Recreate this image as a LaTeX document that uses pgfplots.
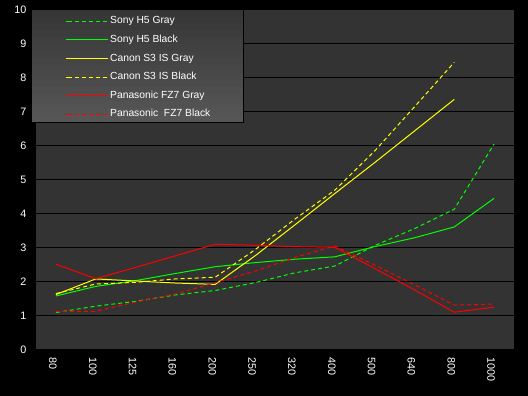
\documentclass[border=0pt]{standalone}
\usepackage{pgfplots}
\pgfplotsset{compat=1.18}
\usepackage{fontspec}
\setmainfont{Liberation Sans}
\definecolor{plotbg}{HTML}{333333}
\definecolor{legtop}{HTML}{363636}
\definecolor{legbot}{HTML}{565656}
\definecolor{cgreen}{HTML}{00FF00}
\definecolor{cyellow}{HTML}{FFFF00}
\definecolor{cred}{HTML}{FF0000}
\begin{document}
\begin{tikzpicture}[font=\fontsize{10.3}{12}\selectfont]
\fill[black] (0,0) rectangle (528pt,396pt);
\useasboundingbox (0,0) rectangle (528pt,396pt);
\begin{axis}[
  at={(36pt,46pt)}, anchor=south west,
  scale only axis, width=478pt, height=340pt,
  xmin=-0.5, xmax=11.5, ymin=0, ymax=10,
  clip=false,
  axis background/.style={fill=plotbg},
  axis line style={draw=none},
  ytick={0,1,...,10},
  xtick={0,1,...,11},
  xticklabels={80,100,125,160,200,250,320,400,500,640,800,1000},
  major tick length=0pt,
  ymajorgrids, grid style={black, line width=1pt},
  tick label style={white, font=\fontsize{10.8}{13}\selectfont},
  xticklabel style={xshift=-3pt, yshift=-4pt, rotate=-90, anchor=west},
  yticklabel style={xshift=-6pt, anchor=east},
  /pgf/number format/assume math mode=true,
  legend image code/.code={\path (0pt,0pt) -- (2pt,0pt); \draw[#1] (2pt,0pt) -- (42pt,0pt);},
  legend cell align=left,
  legend style={at={(-0.0105,1.003)}, anchor=north west,
    draw=none, fill=none,
    font=\fontsize{10.3}{12}\selectfont,
    inner xsep=34pt, inner ysep=5pt, row sep=4.5pt,
    nodes={inner sep=2pt, text height=7.8pt, text depth=2.3pt}},
  every axis plot/.append style={line width=1pt, sharp plot, mark=none},
]
\addplot[cgreen, dash pattern=on 4pt off 3pt] coordinates {
(0,1.10) (1,1.29) (2,1.43) (3,1.62) (4,1.75) (5,1.98) (6,2.27) (7,2.47) (8,3.07) (9,3.57) (10,4.14) (11,6.06)};
\addlegendentry{\textcolor{white}{Sony H5 Gray}}
\addplot[cgreen] coordinates {
(0,1.59) (1,1.87) (2,2.04) (3,2.25) (4,2.45) (5,2.57) (6,2.67) (7,2.74) (8,3.04) (9,3.30) (10,3.62) (11,4.46)};
\addlegendentry{\textcolor{white}{Sony H5 Black}}
\addplot[cyellow] coordinates {
(0,1.63) (1,2.09) (2,2.03) (3,1.97) (4,1.93) (5,2.77) (6,3.68) (7,4.60) (8,5.51) (9,6.44) (10,7.37)};
\addlegendentry{\textcolor{white}{Canon S3 IS Gray}}
\addplot[cyellow, dash pattern=on 4pt off 3pt] coordinates {
(0,1.66) (1,1.94) (2,1.99) (3,2.09) (4,2.14) (5,2.95) (6,3.85) (7,4.70) (8,5.85) (9,7.15) (10,8.46)};
\addlegendentry{\textcolor{white}{Canon S3 IS Black}}
\addplot[cred] coordinates {
(0,2.52) (1,2.10) (2,2.43) (3,2.77) (4,3.11) (5,3.08) (6,3.04) (7,3.02) (8,2.40) (9,1.77) (10,1.11) (11,1.26)};
\addlegendentry{\textcolor{white}{Panasonic FZ7 Gray}}
\addplot[cred, dash pattern=on 4pt off 3pt] coordinates {
(0,1.13) (1,1.14) (2,1.41) (3,1.65) (4,1.98) (5,2.32) (6,2.72) (7,3.06) (8,2.50) (9,1.92) (10,1.32) (11,1.35)};
\addlegendentry{\textcolor{white}{Panasonic\ \ FZ7 Black}}
\pgfplotsinvokeforeach{0,...,15}{
  \pgfmathtruncatemacro{\pct}{100-#1*100/15}
  \pgfmathsetmacro{\ya}{1-#1*113/16}
  \pgfmathsetmacro{\yb}{1-(#1+1)*113/16-0.4}
  \edef\temp{\noexpand\fill[color=legtop!\pct!legbot]
    ([xshift=-5pt,yshift=\ya pt]rel axis cs:0,1) rectangle
    ([xshift=207pt,yshift=\yb pt]rel axis cs:0,1);}
  \temp
}
\draw[black, line width=0.8pt]
  ([xshift=-5pt,yshift=1pt]rel axis cs:0,1) rectangle ([xshift=207pt,yshift=-112pt]rel axis cs:0,1);
\end{axis}
\end{tikzpicture}
\end{document}
